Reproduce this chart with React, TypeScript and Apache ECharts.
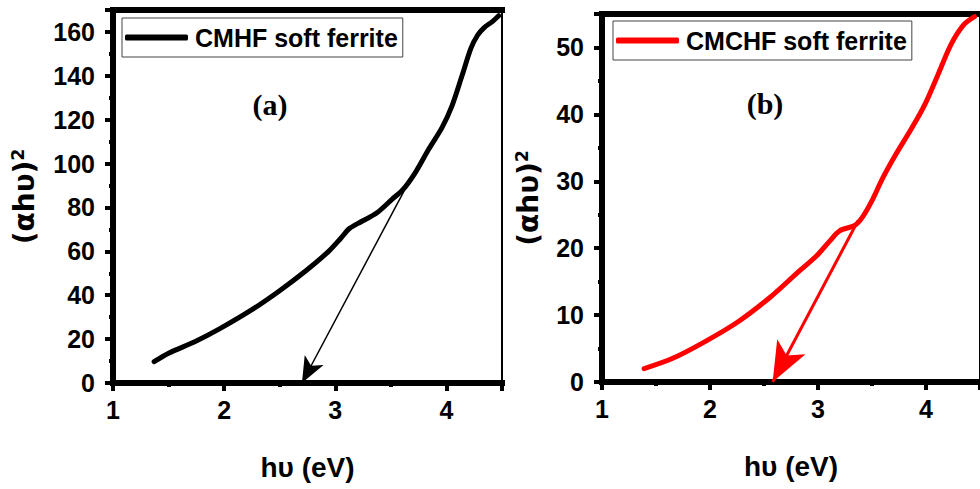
import React, { useEffect, useRef } from "react";
import * as echarts from "echarts";

// Panel (a): CMHF soft ferrite
const xA = [1.37, 1.5, 1.74, 1.97, 2.25, 2.49, 2.73, 2.94, 3.05, 3.13, 3.24, 3.375, 3.51, 3.61, 3.72, 3.84, 3.96, 4.05, 4.14, 4.22, 4.28, 4.34, 4.41, 4.47];
const yA = [9.7, 13.6, 18.9, 25, 33.4, 41.7, 50.9, 60, 66, 70.5, 73.7, 77.6, 83.7, 88.2, 95.9, 106.5, 116.4, 126.3, 140, 152.5, 158.5, 162, 164.6, 167.4];
// Panel (b): CMCHF soft ferrite
const xB = [1.39, 1.65, 1.95, 2.26, 2.56, 2.8, 2.99, 3.11, 3.2, 3.34, 3.41, 3.5, 3.6, 3.72, 3.87, 3.99, 4.11, 4.23, 4.35, 4.45];
const yB = [2.0, 3.5, 6.0, 9.0, 12.7, 16.2, 18.9, 21.1, 22.6, 23.4, 24.6, 27.1, 30.5, 34, 38.0, 41.5, 45.9, 50.4, 53.4, 54.6];
// Extrapolation arrows [start, tip]
const arrowA = [[3.69, 94.3], [2.7, 0]];
const arrowB = [[3.37, 24.1], [2.58, 0]];

const nameA = "CMHF soft ferrite";
const nameB = "CMCHF soft ferrite";
const xTicks = { min: 1, max: 4.5, interval: 1 };
const yTicksA = { min: 0, max: 170, interval: 20 };
const yTicksB = { min: 0, max: 55, interval: 10 };

const SANS = "Liberation Sans";

function mainX(grid: number) {
  return {
    type: "value",
    gridIndex: grid,
    min: xTicks.min,
    max: xTicks.max,
    interval: xTicks.interval,
    name: "hυ (eV)",
    nameLocation: "middle",
    nameGap: 70,
    nameTextStyle: { fontFamily: SANS, fontWeight: "bold", fontSize: 28, color: "#000" },
    axisLine: { show: true, onZero: false, lineStyle: { color: "#000", width: 6, cap: "square" } },
    axisTick: { show: true, inside: false, length: 8, lineStyle: { color: "#000", width: 4 } },
    minorTick: { show: true, splitNumber: 2, length: 4, lineStyle: { color: "#000", width: 4 } },
    axisLabel: { showMaxLabel: false, margin: 14, fontFamily: SANS, fontWeight: "bold", fontSize: 25, color: "#000" },
    splitLine: { show: false },
  };
}
function topX(grid: number) {
  return {
    type: "value",
    gridIndex: grid,
    position: "top",
    min: xTicks.min,
    max: xTicks.max,
    interval: xTicks.interval,
    axisLine: { show: true, onZero: false, lineStyle: { color: "#000", width: 6, cap: "square" } },
    axisTick: { show: false },
    axisLabel: { show: false },
    splitLine: { show: false },
  };
}
function mainY(grid: number, t: { min: number; max: number; interval: number }, gap: number) {
  return {
    type: "value",
    gridIndex: grid,
    min: t.min,
    max: t.max,
    interval: t.interval,
    name: "{a|(αhυ)}{s|2}",
    nameLocation: "middle",
    nameGap: gap,
    nameTextStyle: {
      rich: {
        a: { fontFamily: "DejaVu Sans", fontWeight: "bold", fontSize: 28, color: "#000" },
        s: { fontFamily: "DejaVu Sans", fontWeight: "bold", fontSize: 17, color: "#000", verticalAlign: "top", padding: [0, 0, 14, 0] },
      },
    },
    axisLine: { show: true, onZero: false, lineStyle: { color: "#000", width: 6, cap: "square" } },
    axisTick: { show: true, inside: false, length: 8, lineStyle: { color: "#000", width: 4 } },
    minorTick: { show: true, splitNumber: 2, length: 4, lineStyle: { color: "#000", width: 4 } },
    axisLabel: { showMaxLabel: false, margin: 18, fontFamily: SANS, fontWeight: "bold", fontSize: 25, color: "#000" },
    splitLine: { show: false },
  };
}
function rightY(grid: number, t: { min: number; max: number; interval: number }) {
  return {
    type: "value",
    gridIndex: grid,
    position: "right",
    min: t.min,
    max: t.max,
    interval: t.interval,
    axisLine: { show: true, onZero: false, lineStyle: { color: "#000", width: 2 } },
    axisTick: { show: false },
    axisLabel: { show: false },
    splitLine: { show: false },
  };
}

function legend(name: string, left: number, top: number) {
  return {
    data: [name],
    left,
    top,
    orient: "horizontal",
    icon: "roundRect",
    itemWidth: 63,
    itemHeight: 6,
    itemGap: 0,
    padding: [7, 5, 7, 3],
    borderColor: "#444",
    borderWidth: 1,
    backgroundColor: "#fff",
    selectedMode: false,
    textStyle: { fontFamily: SANS, fontWeight: "bold", fontSize: 25, color: "#000", padding: [0, 0, 0, 2] },
  };
}

export default function App() {
  const ref = useRef<HTMLDivElement>(null);
  useEffect(() => {
    if (!ref.current) return;
    const chart = echarts.init(ref.current, undefined, { renderer: "svg" });
    const dataA = xA.map((x, i) => [x, yA[i]]);
    const dataB = xB.map((x, i) => [x, yB[i]]);
    chart.setOption({
      animation: false,
      backgroundColor: "#fff",
      grid: [
        { left: 113, top: 10, right: 478, bottom: 106, containLabel: false },
        { left: 602, top: 14, right: -6, bottom: 107, containLabel: false },
      ],
      xAxis: [mainX(0), topX(0), mainX(1), topX(1)],
      yAxis: [mainY(0, yTicksA, 73), rightY(0, yTicksA), mainY(1, yTicksB, 58), rightY(1, yTicksB)],
      legend: [legend(nameA, 122, 18), legend(nameB, 613, 21)],
      graphic: [
        { type: "text", x: 270, y: 104, style: { text: "(a)", font: 'bold 30px "Liberation Serif"', fill: "#000", align: "center", verticalAlign: "middle" } },
        { type: "text", x: 765, y: 103, style: { text: "(b)", font: 'bold 30px "Liberation Serif"', fill: "#000", align: "center", verticalAlign: "middle" } },
      ],
      series: [
        {
          name: nameA,
          type: "line",
          xAxisIndex: 0,
          yAxisIndex: 0,
          data: dataA,
          smooth: 0.3,
          showSymbol: false,
          symbol: "none",
          color: "#000",
          lineStyle: { color: "#000", width: 5, cap: "round", join: "round" },
          markLine: {
            silent: true,
            symbol: ["none", "arrow"],
            symbolSize: [16, 26],
            label: { show: false },
            lineStyle: { color: "#000", width: 1.5, type: "solid" },
            data: [[{ coord: arrowA[0] }, { coord: arrowA[1] }]],
          },
        },
        {
          name: nameB,
          type: "line",
          xAxisIndex: 2,
          yAxisIndex: 2,
          data: dataB,
          smooth: 0.3,
          showSymbol: false,
          symbol: "none",
          color: "#ff0000",
          lineStyle: { color: "#ff0000", width: 5, cap: "round", join: "round" },
          markLine: {
            silent: true,
            symbol: ["none", "arrow"],
            symbolSize: [24, 40],
            label: { show: false },
            lineStyle: { color: "#ff0000", width: 3, type: "solid" },
            data: [[{ coord: arrowB[0] }, { coord: arrowB[1] }]],
          },
        },
      ],
    });
    return () => chart.dispose();
  }, []);
  return <div ref={ref} style={{ position: "absolute", left: 0, top: 0, width: 980, height: 489 }} />;
}
